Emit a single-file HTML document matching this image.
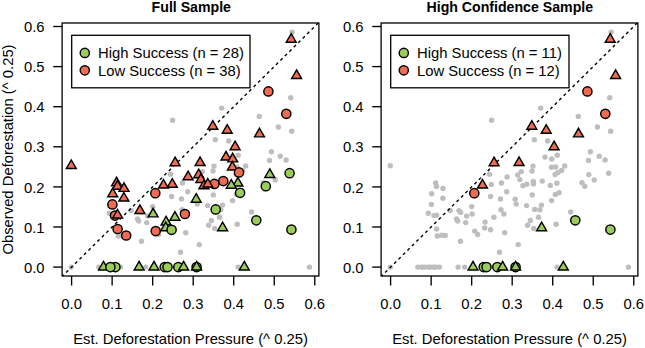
<!DOCTYPE html>
<html><head><meta charset="utf-8"><title>Deforestation</title>
<style>
html,body{margin:0;padding:0;background:#fff;}
body{width:645px;height:348px;overflow:hidden;}
svg{display:block;}
.t{font-family:"Liberation Sans",sans-serif;font-size:14.8px;fill:#000;}
.b{font-family:"Liberation Sans",sans-serif;font-size:14.15px;font-weight:bold;fill:#000;}
</style></head><body>
<svg width="645" height="348" viewBox="0 0 645 348">
<rect width="645" height="348" fill="#fff"/>
<g fill="#BEBEBE">
<circle cx="292.2" cy="32.1" r="2.7"/>
<circle cx="291.2" cy="39.4" r="2.7"/>
<circle cx="296.6" cy="75.6" r="2.7"/>
<circle cx="268.4" cy="91.4" r="2.7"/>
<circle cx="290.7" cy="97.8" r="2.7"/>
<circle cx="286.3" cy="113.8" r="2.7"/>
<circle cx="221.7" cy="108.1" r="2.7"/>
<circle cx="259.3" cy="116.4" r="2.7"/>
<circle cx="172.6" cy="120.3" r="2.7"/>
<circle cx="212.8" cy="126.4" r="2.7"/>
<circle cx="227.2" cy="130.4" r="2.7"/>
<circle cx="259.5" cy="134" r="2.7"/>
<circle cx="278.4" cy="127" r="2.7"/>
<circle cx="291.7" cy="131.2" r="2.7"/>
<circle cx="215.3" cy="139.8" r="2.7"/>
<circle cx="228.7" cy="140.9" r="2.7"/>
<circle cx="235.1" cy="146.8" r="2.7"/>
<circle cx="271.4" cy="151.8" r="2.7"/>
<circle cx="280.2" cy="156.2" r="2.7"/>
<circle cx="286.1" cy="160" r="2.7"/>
<circle cx="269.5" cy="160.4" r="2.7"/>
<circle cx="71.3" cy="165.7" r="2.7"/>
<circle cx="175.1" cy="162.8" r="2.7"/>
<circle cx="200.1" cy="162.7" r="2.7"/>
<circle cx="226" cy="157.1" r="2.7"/>
<circle cx="232.7" cy="159" r="2.7"/>
<circle cx="238.2" cy="155.2" r="2.7"/>
<circle cx="214" cy="166.1" r="2.7"/>
<circle cx="213" cy="171" r="2.7"/>
<circle cx="202.3" cy="171.6" r="2.7"/>
<circle cx="198.7" cy="174.9" r="2.7"/>
<circle cx="200.9" cy="179.6" r="2.7"/>
<circle cx="188.1" cy="176.9" r="2.7"/>
<circle cx="170.4" cy="174.3" r="2.7"/>
<circle cx="232.4" cy="167.2" r="2.7"/>
<circle cx="236.6" cy="167" r="2.7"/>
<circle cx="245.7" cy="166" r="2.7"/>
<circle cx="242.6" cy="170.4" r="2.7"/>
<circle cx="239" cy="172.4" r="2.7"/>
<circle cx="236.1" cy="174.5" r="2.7"/>
<circle cx="289.6" cy="173.2" r="2.7"/>
<circle cx="269.8" cy="174.6" r="2.7"/>
<circle cx="275.2" cy="179.9" r="2.7"/>
<circle cx="263" cy="182.8" r="2.7"/>
<circle cx="265.8" cy="186.2" r="2.7"/>
<circle cx="214.3" cy="181.4" r="2.7"/>
<circle cx="223.3" cy="181.1" r="2.7"/>
<circle cx="237.9" cy="183.2" r="2.7"/>
<circle cx="182.5" cy="183" r="2.7"/>
<circle cx="172.3" cy="184.4" r="2.7"/>
<circle cx="155.3" cy="193.2" r="2.7"/>
<circle cx="163.5" cy="185.2" r="2.7"/>
<circle cx="214.4" cy="183.9" r="2.7"/>
<circle cx="203.9" cy="185.8" r="2.7"/>
<circle cx="207.8" cy="184.2" r="2.7"/>
<circle cx="231.3" cy="185.4" r="2.7"/>
<circle cx="187.7" cy="191.7" r="2.7"/>
<circle cx="171.6" cy="196.5" r="2.7"/>
<circle cx="181.5" cy="198.9" r="2.7"/>
<circle cx="196.2" cy="199.3" r="2.7"/>
<circle cx="197.2" cy="204.1" r="2.7"/>
<circle cx="213.3" cy="194.9" r="2.7"/>
<circle cx="236.3" cy="194.4" r="2.7"/>
<circle cx="240.1" cy="192.8" r="2.7"/>
<circle cx="232.6" cy="200.6" r="2.7"/>
<circle cx="207.6" cy="205.6" r="2.7"/>
<circle cx="222.5" cy="205.1" r="2.7"/>
<circle cx="215.7" cy="209.4" r="2.7"/>
<circle cx="220.9" cy="209.8" r="2.7"/>
<circle cx="182" cy="209.8" r="2.7"/>
<circle cx="184.9" cy="214" r="2.7"/>
<circle cx="174.9" cy="217.3" r="2.7"/>
<circle cx="166.1" cy="222.1" r="2.7"/>
<circle cx="165.7" cy="227.9" r="2.7"/>
<circle cx="171.6" cy="229.8" r="2.7"/>
<circle cx="185.7" cy="232.7" r="2.7"/>
<circle cx="219.5" cy="217.2" r="2.7"/>
<circle cx="211.4" cy="220.5" r="2.7"/>
<circle cx="208.6" cy="225.3" r="2.7"/>
<circle cx="214.7" cy="228.4" r="2.7"/>
<circle cx="222.6" cy="227.8" r="2.7"/>
<circle cx="237.2" cy="224.3" r="2.7"/>
<circle cx="251.7" cy="212" r="2.7"/>
<circle cx="256.3" cy="220.3" r="2.7"/>
<circle cx="291.4" cy="229.6" r="2.7"/>
<circle cx="116.6" cy="183" r="2.7"/>
<circle cx="117.5" cy="186.4" r="2.7"/>
<circle cx="124" cy="188.5" r="2.7"/>
<circle cx="112.7" cy="193.8" r="2.7"/>
<circle cx="123.9" cy="198.2" r="2.7"/>
<circle cx="112.4" cy="204.4" r="2.7"/>
<circle cx="109.3" cy="213.3" r="2.7"/>
<circle cx="115" cy="215.6" r="2.7"/>
<circle cx="117.6" cy="215.2" r="2.7"/>
<circle cx="131.1" cy="210.4" r="2.7"/>
<circle cx="139.9" cy="210.6" r="2.7"/>
<circle cx="141.6" cy="212.4" r="2.7"/>
<circle cx="137.5" cy="219" r="2.7"/>
<circle cx="138.7" cy="221" r="2.7"/>
<circle cx="147.6" cy="216.1" r="2.7"/>
<circle cx="146.7" cy="222.6" r="2.7"/>
<circle cx="152.7" cy="206.6" r="2.7"/>
<circle cx="153.1" cy="214" r="2.7"/>
<circle cx="117.6" cy="229" r="2.7"/>
<circle cx="118.3" cy="236" r="2.7"/>
<circle cx="122.7" cy="235.2" r="2.7"/>
<circle cx="126.2" cy="235.5" r="2.7"/>
<circle cx="155.7" cy="231.1" r="2.7"/>
<circle cx="158.6" cy="234.5" r="2.7"/>
<circle cx="141.5" cy="241.3" r="2.7"/>
<circle cx="199.2" cy="244.6" r="2.7"/>
<circle cx="180.5" cy="252.2" r="2.7"/>
<circle cx="71.3" cy="267.1" r="2.7"/>
<circle cx="98.8" cy="267.1" r="2.7"/>
<circle cx="102.4" cy="267.1" r="2.7"/>
<circle cx="106" cy="267.1" r="2.7"/>
<circle cx="109.6" cy="267.1" r="2.7"/>
<circle cx="113.2" cy="267.1" r="2.7"/>
<circle cx="116.8" cy="267.1" r="2.7"/>
<circle cx="120.4" cy="267.1" r="2.7"/>
<circle cx="103.5" cy="267.1" r="2.7"/>
<circle cx="115.4" cy="267.1" r="2.7"/>
<circle cx="110.4" cy="267.1" r="2.7"/>
<circle cx="139.1" cy="267.1" r="2.7"/>
<circle cx="145.7" cy="267.1" r="2.7"/>
<circle cx="154" cy="267.1" r="2.7"/>
<circle cx="164.7" cy="267.1" r="2.7"/>
<circle cx="167.5" cy="267.1" r="2.7"/>
<circle cx="178.3" cy="267.1" r="2.7"/>
<circle cx="183.6" cy="267.1" r="2.7"/>
<circle cx="196.6" cy="267.1" r="2.7"/>
<circle cx="196.6" cy="267.1" r="2.7"/>
<circle cx="238.1" cy="267.1" r="2.7"/>
<circle cx="244.3" cy="267.1" r="2.7"/>
<circle cx="309.4" cy="267.1" r="2.7"/>
</g>
<line x1="62.6" y1="276" x2="318.25" y2="23.01" stroke="#000" stroke-width="1.4" stroke-dasharray="3.0 3.28" stroke-dashoffset="1.3"/>
<g stroke="#000" stroke-width="1.45" stroke-linejoin="miter">
<polygon points="291.2,33.7 296.14,42.25 286.26,42.25" fill="#EF6B51"/>
<polygon points="296.6,69.9 301.54,78.45 291.66,78.45" fill="#EF6B51"/>
<circle cx="268.4" cy="91.4" r="4.6" fill="#EF6B51"/>
<circle cx="286.3" cy="113.8" r="4.6" fill="#EF6B51"/>
<polygon points="212.8,120.7 217.74,129.25 207.86,129.25" fill="#EF6B51"/>
<polygon points="227.2,124.7 232.14,133.25 222.26,133.25" fill="#EF6B51"/>
<polygon points="259.5,128.3 264.44,136.85 254.56,136.85" fill="#EF6B51"/>
<polygon points="235.1,141.1 240.04,149.65 230.16,149.65" fill="#EF6B51"/>
<polygon points="71.3,160 76.24,168.55 66.36,168.55" fill="#EF6B51"/>
<polygon points="175.1,157.1 180.04,165.65 170.16,165.65" fill="#EF6B51"/>
<polygon points="200.1,157 205.04,165.55 195.16,165.55" fill="#EF6B51"/>
<polygon points="226,151.4 230.94,159.95 221.06,159.95" fill="#EF6B51"/>
<polygon points="232.7,153.3 237.64,161.85 227.76,161.85" fill="#EF6B51"/>
<polygon points="198.7,169.2 203.64,177.75 193.76,177.75" fill="#EF6B51"/>
<polygon points="200.9,173.9 205.84,182.45 195.96,182.45" fill="#EF6B51"/>
<polygon points="188.1,171.2 193.04,179.75 183.16,179.75" fill="#EF6B51"/>
<polygon points="232.4,161.5 237.34,170.05 227.46,170.05" fill="#EF6B51"/>
<circle cx="239" cy="172.4" r="4.6" fill="#EF6B51"/>
<circle cx="289.6" cy="173.2" r="4.6" fill="#9BCC5A"/>
<polygon points="269.8,168.9 274.74,177.45 264.86,177.45" fill="#9BCC5A"/>
<circle cx="265.8" cy="186.2" r="4.6" fill="#9BCC5A"/>
<circle cx="223.3" cy="181.1" r="4.6" fill="#EF6B51"/>
<polygon points="237.9,177.5 242.84,186.05 232.96,186.05" fill="#9BCC5A"/>
<polygon points="172.3,178.7 177.24,187.25 167.36,187.25" fill="#EF6B51"/>
<circle cx="155.3" cy="193.2" r="4.6" fill="#EF6B51"/>
<polygon points="163.5,179.5 168.44,188.05 158.56,188.05" fill="#EF6B51"/>
<circle cx="214.4" cy="183.9" r="4.6" fill="#EF6B51"/>
<polygon points="203.9,180.1 208.84,188.65 198.96,188.65" fill="#EF6B51"/>
<polygon points="207.8,178.5 212.74,187.05 202.86,187.05" fill="#EF6B51"/>
<polygon points="231.3,179.7 236.24,188.25 226.36,188.25" fill="#9BCC5A"/>
<polygon points="196.2,193.6 201.14,202.15 191.26,202.15" fill="#9BCC5A"/>
<circle cx="240.1" cy="192.8" r="4.6" fill="#9BCC5A"/>
<circle cx="215.7" cy="209.4" r="4.6" fill="#9BCC5A"/>
<circle cx="184.9" cy="214" r="4.6" fill="#EF6B51"/>
<polygon points="174.9,211.6 179.84,220.15 169.96,220.15" fill="#9BCC5A"/>
<polygon points="166.1,216.4 171.04,224.95 161.16,224.95" fill="#9BCC5A"/>
<polygon points="165.7,222.2 170.64,230.75 160.76,230.75" fill="#9BCC5A"/>
<circle cx="171.6" cy="229.8" r="4.6" fill="#9BCC5A"/>
<polygon points="222.6,222.1 227.54,230.65 217.66,230.65" fill="#9BCC5A"/>
<circle cx="256.3" cy="220.3" r="4.6" fill="#9BCC5A"/>
<circle cx="291.4" cy="229.6" r="4.6" fill="#9BCC5A"/>
<polygon points="116.6,177.3 121.54,185.85 111.66,185.85" fill="#EF6B51"/>
<polygon points="117.5,180.7 122.44,189.25 112.56,189.25" fill="#EF6B51"/>
<polygon points="124,182.8 128.94,191.35 119.06,191.35" fill="#EF6B51"/>
<polygon points="112.7,188.1 117.64,196.65 107.76,196.65" fill="#EF6B51"/>
<polygon points="123.9,192.5 128.84,201.05 118.96,201.05" fill="#EF6B51"/>
<circle cx="112.4" cy="204.4" r="4.6" fill="#EF6B51"/>
<circle cx="115" cy="215.6" r="4.6" fill="#EF6B51"/>
<polygon points="117.6,209.5 122.54,218.05 112.66,218.05" fill="#EF6B51"/>
<polygon points="139.9,204.9 144.84,213.45 134.96,213.45" fill="#EF6B51"/>
<polygon points="153.1,208.3 158.04,216.85 148.16,216.85" fill="#9BCC5A"/>
<circle cx="117.6" cy="229" r="4.6" fill="#EF6B51"/>
<circle cx="126.2" cy="235.5" r="4.6" fill="#EF6B51"/>
<circle cx="155.7" cy="231.1" r="4.6" fill="#EF6B51"/>
<polygon points="103.5,261.4 108.44,269.95 98.56,269.95" fill="#9BCC5A"/>
<circle cx="115.4" cy="267.1" r="4.6" fill="#9BCC5A"/>
<circle cx="110.4" cy="267.1" r="4.6" fill="#9BCC5A"/>
<polygon points="139.1,261.4 144.04,269.95 134.16,269.95" fill="#9BCC5A"/>
<polygon points="154,261.4 158.94,269.95 149.06,269.95" fill="#9BCC5A"/>
<circle cx="164.7" cy="267.1" r="4.6" fill="#9BCC5A"/>
<circle cx="167.5" cy="267.1" r="4.6" fill="#9BCC5A"/>
<circle cx="178.3" cy="267.1" r="4.6" fill="#9BCC5A"/>
<polygon points="183.6,261.4 188.54,269.95 178.66,269.95" fill="#9BCC5A"/>
<circle cx="196.6" cy="267.1" r="4.6" fill="#9BCC5A"/>
<polygon points="196.6,261.4 201.54,269.95 191.66,269.95" fill="#9BCC5A"/>
<polygon points="244.3,261.4 249.24,269.95 239.36,269.95" fill="#9BCC5A"/>
</g>
<g fill="#BEBEBE">
<circle cx="611.2" cy="32.1" r="2.7"/>
<circle cx="610.2" cy="39.4" r="2.7"/>
<circle cx="615.6" cy="75.6" r="2.7"/>
<circle cx="587.4" cy="91.4" r="2.7"/>
<circle cx="609.7" cy="97.8" r="2.7"/>
<circle cx="605.3" cy="113.8" r="2.7"/>
<circle cx="540.7" cy="108.1" r="2.7"/>
<circle cx="578.3" cy="116.4" r="2.7"/>
<circle cx="491.6" cy="120.3" r="2.7"/>
<circle cx="531.8" cy="126.4" r="2.7"/>
<circle cx="546.2" cy="130.4" r="2.7"/>
<circle cx="578.5" cy="134" r="2.7"/>
<circle cx="597.4" cy="127" r="2.7"/>
<circle cx="610.7" cy="131.2" r="2.7"/>
<circle cx="534.3" cy="139.8" r="2.7"/>
<circle cx="547.7" cy="140.9" r="2.7"/>
<circle cx="554.1" cy="146.8" r="2.7"/>
<circle cx="590.4" cy="151.8" r="2.7"/>
<circle cx="599.2" cy="156.2" r="2.7"/>
<circle cx="605.1" cy="160" r="2.7"/>
<circle cx="588.5" cy="160.4" r="2.7"/>
<circle cx="390.3" cy="165.7" r="2.7"/>
<circle cx="494.1" cy="162.8" r="2.7"/>
<circle cx="519.1" cy="162.7" r="2.7"/>
<circle cx="545" cy="157.1" r="2.7"/>
<circle cx="551.7" cy="159" r="2.7"/>
<circle cx="557.2" cy="155.2" r="2.7"/>
<circle cx="533" cy="166.1" r="2.7"/>
<circle cx="532" cy="171" r="2.7"/>
<circle cx="521.3" cy="171.6" r="2.7"/>
<circle cx="517.7" cy="174.9" r="2.7"/>
<circle cx="519.9" cy="179.6" r="2.7"/>
<circle cx="507.1" cy="176.9" r="2.7"/>
<circle cx="489.4" cy="174.3" r="2.7"/>
<circle cx="551.4" cy="167.2" r="2.7"/>
<circle cx="555.6" cy="167" r="2.7"/>
<circle cx="564.7" cy="166" r="2.7"/>
<circle cx="561.6" cy="170.4" r="2.7"/>
<circle cx="558" cy="172.4" r="2.7"/>
<circle cx="555.1" cy="174.5" r="2.7"/>
<circle cx="608.6" cy="173.2" r="2.7"/>
<circle cx="588.8" cy="174.6" r="2.7"/>
<circle cx="594.2" cy="179.9" r="2.7"/>
<circle cx="582" cy="182.8" r="2.7"/>
<circle cx="584.8" cy="186.2" r="2.7"/>
<circle cx="533.3" cy="181.4" r="2.7"/>
<circle cx="542.3" cy="181.1" r="2.7"/>
<circle cx="556.9" cy="183.2" r="2.7"/>
<circle cx="501.5" cy="183" r="2.7"/>
<circle cx="491.3" cy="184.4" r="2.7"/>
<circle cx="474.3" cy="193.2" r="2.7"/>
<circle cx="482.5" cy="185.2" r="2.7"/>
<circle cx="533.4" cy="183.9" r="2.7"/>
<circle cx="522.9" cy="185.8" r="2.7"/>
<circle cx="526.8" cy="184.2" r="2.7"/>
<circle cx="550.3" cy="185.4" r="2.7"/>
<circle cx="506.7" cy="191.7" r="2.7"/>
<circle cx="490.6" cy="196.5" r="2.7"/>
<circle cx="500.5" cy="198.9" r="2.7"/>
<circle cx="515.2" cy="199.3" r="2.7"/>
<circle cx="516.2" cy="204.1" r="2.7"/>
<circle cx="532.3" cy="194.9" r="2.7"/>
<circle cx="555.3" cy="194.4" r="2.7"/>
<circle cx="559.1" cy="192.8" r="2.7"/>
<circle cx="551.6" cy="200.6" r="2.7"/>
<circle cx="526.6" cy="205.6" r="2.7"/>
<circle cx="541.5" cy="205.1" r="2.7"/>
<circle cx="534.7" cy="209.4" r="2.7"/>
<circle cx="539.9" cy="209.8" r="2.7"/>
<circle cx="501" cy="209.8" r="2.7"/>
<circle cx="503.9" cy="214" r="2.7"/>
<circle cx="493.9" cy="217.3" r="2.7"/>
<circle cx="485.1" cy="222.1" r="2.7"/>
<circle cx="484.7" cy="227.9" r="2.7"/>
<circle cx="490.6" cy="229.8" r="2.7"/>
<circle cx="504.7" cy="232.7" r="2.7"/>
<circle cx="538.5" cy="217.2" r="2.7"/>
<circle cx="530.4" cy="220.5" r="2.7"/>
<circle cx="527.6" cy="225.3" r="2.7"/>
<circle cx="533.7" cy="228.4" r="2.7"/>
<circle cx="541.6" cy="227.8" r="2.7"/>
<circle cx="556.2" cy="224.3" r="2.7"/>
<circle cx="570.7" cy="212" r="2.7"/>
<circle cx="575.3" cy="220.3" r="2.7"/>
<circle cx="610.4" cy="229.6" r="2.7"/>
<circle cx="435.6" cy="183" r="2.7"/>
<circle cx="436.5" cy="186.4" r="2.7"/>
<circle cx="443" cy="188.5" r="2.7"/>
<circle cx="431.7" cy="193.8" r="2.7"/>
<circle cx="442.9" cy="198.2" r="2.7"/>
<circle cx="431.4" cy="204.4" r="2.7"/>
<circle cx="428.3" cy="213.3" r="2.7"/>
<circle cx="434" cy="215.6" r="2.7"/>
<circle cx="436.6" cy="215.2" r="2.7"/>
<circle cx="450.1" cy="210.4" r="2.7"/>
<circle cx="458.9" cy="210.6" r="2.7"/>
<circle cx="460.6" cy="212.4" r="2.7"/>
<circle cx="456.5" cy="219" r="2.7"/>
<circle cx="457.7" cy="221" r="2.7"/>
<circle cx="466.6" cy="216.1" r="2.7"/>
<circle cx="465.7" cy="222.6" r="2.7"/>
<circle cx="471.7" cy="206.6" r="2.7"/>
<circle cx="472.1" cy="214" r="2.7"/>
<circle cx="436.6" cy="229" r="2.7"/>
<circle cx="437.3" cy="236" r="2.7"/>
<circle cx="441.7" cy="235.2" r="2.7"/>
<circle cx="445.2" cy="235.5" r="2.7"/>
<circle cx="474.7" cy="231.1" r="2.7"/>
<circle cx="477.6" cy="234.5" r="2.7"/>
<circle cx="460.5" cy="241.3" r="2.7"/>
<circle cx="518.2" cy="244.6" r="2.7"/>
<circle cx="499.5" cy="252.2" r="2.7"/>
<circle cx="390.3" cy="267.1" r="2.7"/>
<circle cx="417.8" cy="267.1" r="2.7"/>
<circle cx="421.4" cy="267.1" r="2.7"/>
<circle cx="425" cy="267.1" r="2.7"/>
<circle cx="428.6" cy="267.1" r="2.7"/>
<circle cx="432.2" cy="267.1" r="2.7"/>
<circle cx="435.8" cy="267.1" r="2.7"/>
<circle cx="439.4" cy="267.1" r="2.7"/>
<circle cx="422.5" cy="267.1" r="2.7"/>
<circle cx="434.4" cy="267.1" r="2.7"/>
<circle cx="429.4" cy="267.1" r="2.7"/>
<circle cx="458.1" cy="267.1" r="2.7"/>
<circle cx="464.7" cy="267.1" r="2.7"/>
<circle cx="473" cy="267.1" r="2.7"/>
<circle cx="483.7" cy="267.1" r="2.7"/>
<circle cx="486.5" cy="267.1" r="2.7"/>
<circle cx="497.3" cy="267.1" r="2.7"/>
<circle cx="502.6" cy="267.1" r="2.7"/>
<circle cx="515.6" cy="267.1" r="2.7"/>
<circle cx="515.6" cy="267.1" r="2.7"/>
<circle cx="557.1" cy="267.1" r="2.7"/>
<circle cx="563.3" cy="267.1" r="2.7"/>
<circle cx="628.4" cy="267.1" r="2.7"/>
</g>
<line x1="381.6" y1="276" x2="637.25" y2="23.01" stroke="#000" stroke-width="1.4" stroke-dasharray="3.0 3.28" stroke-dashoffset="1.3"/>
<g stroke="#000" stroke-width="1.45" stroke-linejoin="miter">
<polygon points="610.2,33.7 615.14,42.25 605.26,42.25" fill="#EF6B51"/>
<polygon points="615.6,69.9 620.54,78.45 610.66,78.45" fill="#EF6B51"/>
<circle cx="587.4" cy="91.4" r="4.6" fill="#EF6B51"/>
<circle cx="605.3" cy="113.8" r="4.6" fill="#EF6B51"/>
<polygon points="531.8,120.7 536.74,129.25 526.86,129.25" fill="#EF6B51"/>
<polygon points="546.2,124.7 551.14,133.25 541.26,133.25" fill="#EF6B51"/>
<polygon points="578.5,128.3 583.44,136.85 573.56,136.85" fill="#EF6B51"/>
<polygon points="554.1,141.1 559.04,149.65 549.16,149.65" fill="#EF6B51"/>
<polygon points="494.1,157.1 499.04,165.65 489.16,165.65" fill="#EF6B51"/>
<polygon points="519.1,157 524.04,165.55 514.16,165.55" fill="#EF6B51"/>
<circle cx="474.3" cy="193.2" r="4.6" fill="#EF6B51"/>
<polygon points="482.5,179.5 487.44,188.05 477.56,188.05" fill="#EF6B51"/>
<polygon points="541.6,222.1 546.54,230.65 536.66,230.65" fill="#9BCC5A"/>
<circle cx="575.3" cy="220.3" r="4.6" fill="#9BCC5A"/>
<circle cx="610.4" cy="229.6" r="4.6" fill="#9BCC5A"/>
<polygon points="473,261.4 477.94,269.95 468.06,269.95" fill="#9BCC5A"/>
<circle cx="483.7" cy="267.1" r="4.6" fill="#9BCC5A"/>
<circle cx="486.5" cy="267.1" r="4.6" fill="#9BCC5A"/>
<circle cx="497.3" cy="267.1" r="4.6" fill="#9BCC5A"/>
<polygon points="502.6,261.4 507.54,269.95 497.66,269.95" fill="#9BCC5A"/>
<circle cx="515.6" cy="267.1" r="4.6" fill="#9BCC5A"/>
<polygon points="515.6,261.4 520.54,269.95 510.66,269.95" fill="#9BCC5A"/>
<polygon points="563.3,261.4 568.24,269.95 558.36,269.95" fill="#9BCC5A"/>
</g>
<rect x="62.1" y="23" width="256.8" height="253" fill="none" stroke="#000" stroke-width="1.3"/>
<line x1="71.6" y1="276" x2="71.6" y2="285.5" stroke="#000" stroke-width="1.35"/>
<text x="71.6" y="308.8" text-anchor="middle" class="t">0.0</text>
<line x1="112.13" y1="276" x2="112.13" y2="285.5" stroke="#000" stroke-width="1.35"/>
<text x="112.13" y="308.8" text-anchor="middle" class="t">0.1</text>
<line x1="152.66" y1="276" x2="152.66" y2="285.5" stroke="#000" stroke-width="1.35"/>
<text x="152.66" y="308.8" text-anchor="middle" class="t">0.2</text>
<line x1="193.19" y1="276" x2="193.19" y2="285.5" stroke="#000" stroke-width="1.35"/>
<text x="193.19" y="308.8" text-anchor="middle" class="t">0.3</text>
<line x1="233.72" y1="276" x2="233.72" y2="285.5" stroke="#000" stroke-width="1.35"/>
<text x="233.72" y="308.8" text-anchor="middle" class="t">0.4</text>
<line x1="274.25" y1="276" x2="274.25" y2="285.5" stroke="#000" stroke-width="1.35"/>
<text x="274.25" y="308.8" text-anchor="middle" class="t">0.5</text>
<line x1="314.78" y1="276" x2="314.78" y2="285.5" stroke="#000" stroke-width="1.35"/>
<text x="314.78" y="308.8" text-anchor="middle" class="t">0.6</text>
<line x1="53.2" y1="267.1" x2="62.1" y2="267.1" stroke="#000" stroke-width="1.35" transform="translate(0,0)"/>
<text x="44.5" y="272.7" text-anchor="end" class="t">0.0</text>
<line x1="53.2" y1="227" x2="62.1" y2="227" stroke="#000" stroke-width="1.35" transform="translate(0,0)"/>
<text x="44.5" y="232.6" text-anchor="end" class="t">0.1</text>
<line x1="53.2" y1="186.9" x2="62.1" y2="186.9" stroke="#000" stroke-width="1.35" transform="translate(0,0)"/>
<text x="44.5" y="192.5" text-anchor="end" class="t">0.2</text>
<line x1="53.2" y1="146.8" x2="62.1" y2="146.8" stroke="#000" stroke-width="1.35" transform="translate(0,0)"/>
<text x="44.5" y="152.4" text-anchor="end" class="t">0.3</text>
<line x1="53.2" y1="106.7" x2="62.1" y2="106.7" stroke="#000" stroke-width="1.35" transform="translate(0,0)"/>
<text x="44.5" y="112.3" text-anchor="end" class="t">0.4</text>
<line x1="53.2" y1="66.6" x2="62.1" y2="66.6" stroke="#000" stroke-width="1.35" transform="translate(0,0)"/>
<text x="44.5" y="72.2" text-anchor="end" class="t">0.5</text>
<line x1="53.2" y1="26.5" x2="62.1" y2="26.5" stroke="#000" stroke-width="1.35" transform="translate(0,0)"/>
<text x="44.5" y="32.1" text-anchor="end" class="t">0.6</text>
<rect x="381.1" y="23" width="256.8" height="253" fill="none" stroke="#000" stroke-width="1.3"/>
<line x1="390.6" y1="276" x2="390.6" y2="285.5" stroke="#000" stroke-width="1.35"/>
<text x="390.6" y="308.8" text-anchor="middle" class="t">0.0</text>
<line x1="431.13" y1="276" x2="431.13" y2="285.5" stroke="#000" stroke-width="1.35"/>
<text x="431.13" y="308.8" text-anchor="middle" class="t">0.1</text>
<line x1="471.66" y1="276" x2="471.66" y2="285.5" stroke="#000" stroke-width="1.35"/>
<text x="471.66" y="308.8" text-anchor="middle" class="t">0.2</text>
<line x1="512.19" y1="276" x2="512.19" y2="285.5" stroke="#000" stroke-width="1.35"/>
<text x="512.19" y="308.8" text-anchor="middle" class="t">0.3</text>
<line x1="552.72" y1="276" x2="552.72" y2="285.5" stroke="#000" stroke-width="1.35"/>
<text x="552.72" y="308.8" text-anchor="middle" class="t">0.4</text>
<line x1="593.25" y1="276" x2="593.25" y2="285.5" stroke="#000" stroke-width="1.35"/>
<text x="593.25" y="308.8" text-anchor="middle" class="t">0.5</text>
<line x1="633.78" y1="276" x2="633.78" y2="285.5" stroke="#000" stroke-width="1.35"/>
<text x="633.78" y="308.8" text-anchor="middle" class="t">0.6</text>
<line x1="53.2" y1="267.1" x2="62.1" y2="267.1" stroke="#000" stroke-width="1.35" transform="translate(319,0)"/>
<text x="363.5" y="272.7" text-anchor="end" class="t">0.0</text>
<line x1="53.2" y1="227" x2="62.1" y2="227" stroke="#000" stroke-width="1.35" transform="translate(319,0)"/>
<text x="363.5" y="232.6" text-anchor="end" class="t">0.1</text>
<line x1="53.2" y1="186.9" x2="62.1" y2="186.9" stroke="#000" stroke-width="1.35" transform="translate(319,0)"/>
<text x="363.5" y="192.5" text-anchor="end" class="t">0.2</text>
<line x1="53.2" y1="146.8" x2="62.1" y2="146.8" stroke="#000" stroke-width="1.35" transform="translate(319,0)"/>
<text x="363.5" y="152.4" text-anchor="end" class="t">0.3</text>
<line x1="53.2" y1="106.7" x2="62.1" y2="106.7" stroke="#000" stroke-width="1.35" transform="translate(319,0)"/>
<text x="363.5" y="112.3" text-anchor="end" class="t">0.4</text>
<line x1="53.2" y1="66.6" x2="62.1" y2="66.6" stroke="#000" stroke-width="1.35" transform="translate(319,0)"/>
<text x="363.5" y="72.2" text-anchor="end" class="t">0.5</text>
<line x1="53.2" y1="26.5" x2="62.1" y2="26.5" stroke="#000" stroke-width="1.35" transform="translate(319,0)"/>
<text x="363.5" y="32.1" text-anchor="end" class="t">0.6</text>
<rect x="71.7" y="35.3" width="178.3" height="52.5" fill="#fff" stroke="#000" stroke-width="1.3"/>
<circle cx="84.8" cy="52.9" r="4.6" fill="#9BCC5A" stroke="#000" stroke-width="1.45"/>
<circle cx="84.8" cy="70.3" r="4.6" fill="#EF6B51" stroke="#000" stroke-width="1.45"/>
<text x="98" y="58.3" class="t">High Success (n = 28)</text>
<text x="98" y="75.8" class="t">Low Success (n = 38)</text>
<rect x="390.7" y="35.3" width="178.3" height="52.5" fill="#fff" stroke="#000" stroke-width="1.3"/>
<circle cx="403.8" cy="52.9" r="4.6" fill="#9BCC5A" stroke="#000" stroke-width="1.45"/>
<circle cx="403.8" cy="70.3" r="4.6" fill="#EF6B51" stroke="#000" stroke-width="1.45"/>
<text x="417" y="58.3" class="t">High Success (n = 11)</text>
<text x="417" y="75.8" class="t">Low Success (n = 12)</text>
<text x="191.3" y="11.5" text-anchor="middle" class="b">Full Sample</text>
<text x="509.8" y="11.5" text-anchor="middle" class="b">High Confidence Sample</text>
<text x="190.5" y="344" text-anchor="middle" class="t">Est. Deforestation Pressure (^ 0.25)</text>
<text x="509.5" y="344" text-anchor="middle" class="t">Est. Deforestation Pressure (^ 0.25)</text>
<text transform="translate(12.6,149.5) rotate(-90)" x="0" y="0" text-anchor="middle" class="t">Observed Deforestation (^ 0.25)</text>
</svg>
</body></html>
